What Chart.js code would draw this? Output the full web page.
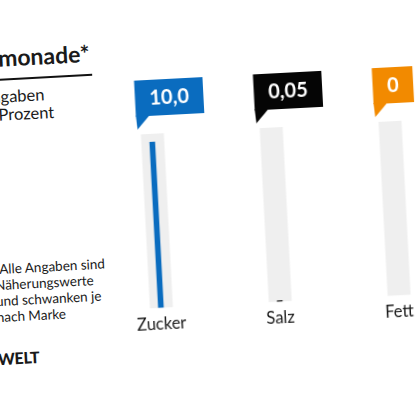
<!DOCTYPE html>
<html lang="de">
<head>
<meta charset="utf-8">
<title>Limonade</title>
<script src="https://cdn.jsdelivr.net/npm/chart.js@4.4.1/dist/chart.umd.min.js"></script>
<style>
  html, body { margin: 0; padding: 0; background: #fff; overflow: hidden; }
  body { width: 415px; height: 405px; font-family: 'Lato', sans-serif; color: #1a1a1a; }
  #stage {
    position: relative; width: 415px; height: 405px;
    transform: rotate(-3deg); transform-origin: 50% 50%;
  }
  .title { position: absolute; left: -12px; top: 34px; font-size: 23px; font-weight: 700; line-height: 1.2; white-space: nowrap; }
  .rule { position: absolute; left: -11px; top: 68px; width: 110px; height: 2px; background: #111; }
  .sub { position: absolute; left: -14px; top: 77px; font-size: 16.5px; line-height: 18px; white-space: nowrap; }
  .note { position: absolute; left: -9px; top: 250px; font-size: 13.5px; line-height: 16px; white-space: nowrap; }
  .logo { position: absolute; left: -10px; top: 338px; font-size: 16px; font-weight: 900; line-height: 1.2; letter-spacing: -0.3px; }
  #chartBox { position: absolute; left: 96px; top: 60px; width: 360px; height: 285px; }
</style>
</head>
<body>
<div id="stage">
  <div class="title">Limonade*</div>
  <div class="rule"></div>
  <div class="sub">Angaben<br>in Prozent</div>
  <div class="note">*Alle Angaben sind<br>Näherungswerte<br>und schwanken je<br>nach Marke</div>
  <div class="logo">WELT</div>
  <div id="chartBox"><canvas id="chart"></canvas></div>
</div>
<script>
// Daten
const categories = ['Zucker', 'Salz', 'Fett'];
const values = [10.0, 0.05, 0];
const valueLabels = ['10,0', '0,05', '0'];
const scaleMax = 10.5;

const barColors = ['#0a6cbf', '#050505', '#f28a00'];
const trackColor = '#efefef';

// grey background track behind every bar
const trackPlugin = {
    id: 'tracks',
    beforeDatasetsDraw(chart) {
        const { ctx, scales: { x, y } } = chart;
        const top = y.getPixelForValue(scaleMax);
        const bottom = y.getPixelForValue(0);
        ctx.save();
        ctx.fillStyle = trackColor;
        categories.forEach((c, i) => {
            const cx = x.getPixelForValue(i);
            ctx.fillRect(cx - 11, top, 23, bottom - top);
        });
        ctx.restore();
    }
};

// speech-bubble value labels above the tracks
const flagPlugin = {
    id: 'flags',
    afterDatasetsDraw(chart) {
        const { ctx, scales: { x, y } } = chart;
        const trackTop = y.getPixelForValue(scaleMax);
        ctx.save();
        ctx.font = '700 20px Lato';
        ctx.textAlign = 'center';
        ctx.textBaseline = 'middle';
        valueLabels.forEach((txt, i) => {
            const cx = x.getPixelForValue(i);
            const w = ctx.measureText(txt).width + 29;
            const h = 36;
            const left = cx - 15;
            const bottom = trackTop - 18;
            ctx.fillStyle = barColors[i];
            ctx.fillRect(left, bottom - h, w, h);
            ctx.beginPath();
            ctx.moveTo(left, bottom - 1);
            ctx.lineTo(left + 1, bottom + 13);
            ctx.lineTo(left + 14, bottom - 1);
            ctx.closePath();
            ctx.fill();
            ctx.fillStyle = '#fff';
            ctx.fillText(txt, left + w / 2, bottom - h / 2 + 1);
        });
        ctx.restore();
    }
};

new Chart(document.getElementById('chart'), {
    type: 'bar',
    data: {
        labels: categories,
        datasets: [{
            data: values,
            // a zero value gets no visible mark
            backgroundColor: c => (c.raw === 0 ? 'rgba(0,0,0,0)' : barColors[c.dataIndex]),
            barThickness: 5,
            borderWidth: 0
        }]
    },
    options: {
        responsive: true,
        maintainAspectRatio: false,
        animation: false,
        layout: { padding: { top: 71, bottom: 6, left: 0, right: 3 } },
        plugins: {
            legend: { display: false },
            tooltip: { enabled: false }
        },
        scales: {
            y: { display: false, min: 0, max: scaleMax },
            x: {
                grid: { display: false, drawTicks: false },
                border: { display: false },
                ticks: { color: '#1a1a1a', font: { family: 'Lato', size: 16.5 }, padding: 7 }
            }
        }
    },
    plugins: [trackPlugin, flagPlugin]
});
</script>
</body>
</html>
